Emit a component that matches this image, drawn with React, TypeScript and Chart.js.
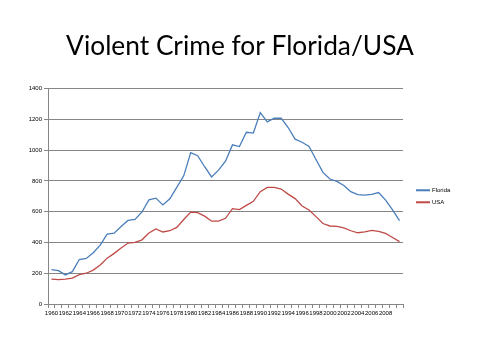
import React, { useEffect, useRef } from "react";
import { Chart, registerables } from "chart.js";

Chart.register(...registerables);

const years: string[] = [];
for (let y = 1960; y <= 2010; y++) years.push(String(y));

const florida = [
  223, 217, 189, 210, 289, 296, 333, 383, 454, 460,
  504, 543, 550, 598, 677, 688, 644, 684, 758, 833,
  984, 964, 892, 826, 870, 928, 1034, 1023, 1116, 1111,
  1244, 1184, 1207, 1208, 1147, 1071, 1051, 1024, 939, 855,
  812, 797, 770, 730, 711, 708, 712, 724, 675, 612,
  542,
];

const usa = [
  161, 158, 162, 168, 191, 200, 220, 253, 298, 329,
  364, 396, 401, 417, 461, 488, 468, 476, 498, 549,
  597, 594, 571, 538, 539, 557, 620, 613, 641, 667,
  730, 758, 758, 747, 714, 685, 637, 611, 568, 523,
  507, 505, 494, 476, 463, 469, 479, 472, 459, 432,
  405,
];

const yTicks = [0, 200, 400, 600, 800, 1000, 1200, 1400];

const TITLE = "Violent Crime for Florida/USA";
const BLUE = "#4A7EBB";
const RED = "#BE4B48";
const GRID = "#868686";

const legendPlugin = {
  id: "sideLegend",
  afterDraw(chart: any) {
    const ctx = chart.ctx;
    const area = chart.chartArea;
    const x0 = area.right + 13;
    const yMid = (area.top + area.bottom) / 2;
    const items = chart.data.datasets;
    const gap = 12;
    const startY = yMid - ((items.length - 1) * gap) / 2;
    ctx.save();
    items.forEach((ds: any, i: number) => {
      const y = startY + i * gap;
      ctx.strokeStyle = ds.borderColor;
      ctx.lineWidth = 2;
      ctx.beginPath();
      ctx.moveTo(x0, y);
      ctx.lineTo(x0 + 14, y);
      ctx.stroke();
      ctx.fillStyle = "#000";
      ctx.font = "6px 'Liberation Sans'";
      ctx.textBaseline = "middle";
      ctx.textAlign = "left";
      ctx.fillText(ds.label, x0 + 16, y);
    });
    ctx.restore();
  },
};

export default function App() {
  const ref = useRef<HTMLCanvasElement | null>(null);
  useEffect(() => {
    if (!ref.current) return;
    const chart = new Chart(ref.current, {
      type: "line",
      data: {
        labels: years,
        datasets: [
          {
            label: "Florida",
            data: florida,
            borderColor: BLUE,
            backgroundColor: BLUE,
            borderWidth: 1.3,
            pointRadius: 0,
            tension: 0,
          },
          {
            label: "USA",
            data: usa,
            borderColor: RED,
            backgroundColor: RED,
            borderWidth: 1.3,
            pointRadius: 0,
            tension: 0,
          },
        ],
      },
      options: {
        responsive: false,
        animation: false,
        devicePixelRatio: 1,
        layout: { padding: { left: 0, right: 0, top: 0, bottom: 36 } },
        plugins: {
          legend: { display: false },
          tooltip: { enabled: false },
          title: {
            display: true,
            text: TITLE,
            color: "#000",
            font: { family: "Lato", size: 26.3, weight: "normal" },
            padding: { top: 31, bottom: 26 },
          },
        },
        scales: {
          x: {
            offset: true,
            grid: {
              display: true,
              drawOnChartArea: false,
              drawTicks: true,
              tickLength: 4,
              color: GRID,
              offset: true,
            },
            border: { color: GRID, width: 1 },
            ticks: {
              autoSkip: false,
              maxRotation: 0,
              minRotation: 0,
              padding: 2,
              color: "#000",
              font: { family: "Liberation Sans", size: 6 },
              callback: (_v: any, i: number) =>
                i % 2 === 0 && i < years.length - 1 ? years[i] : "",
            },
            afterFit: (s: any) => {
              s.height = 20;
            },
          },
          y: {
            min: 0,
            max: 1400,
            afterBuildTicks: (s: any) => {
              s.ticks = yTicks.map((v) => ({ value: v }));
            },
            grid: { color: GRID, tickLength: 4, lineWidth: 1 },
            border: { color: GRID, width: 1 },
            ticks: {
              padding: 2,
              color: "#000",
              font: { family: "Liberation Sans", size: 6 },
              callback: (v: any) => String(v),
            },
            afterFit: (s: any) => {
              s.width = 48;
            },
          },
          legendSpace: {
            position: "right",
            display: true,
            min: 0,
            max: 1,
            grid: { display: false, drawTicks: false },
            border: { display: false },
            ticks: { display: false },
            afterFit: (s: any) => {
              s.width = 77;
            },
          },
        },
      },
      plugins: [legendPlugin],
    });
    return () => chart.destroy();
  }, []);
  return (
    <div style={{ position: "absolute", left: 0, top: 0, width: 480, height: 360, background: "#fff" }}>
      <canvas ref={ref} width={480} height={360} style={{ width: 480, height: 360, display: "block" }} />
    </div>
  );
}
